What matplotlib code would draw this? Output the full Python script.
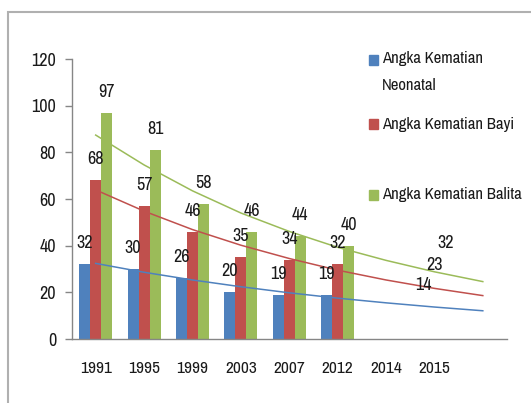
import numpy as np
import matplotlib
matplotlib.use("Agg")
import matplotlib.pyplot as plt
from matplotlib import font_manager as fm
from matplotlib.patches import Rectangle

# look for a narrow face (the original uses a Calibri-like font)
names_avail = sorted({f.name for f in fm.fontManager.ttflist})
narrow = [n for n in names_avail if ('Narrow' in n or 'Condensed' in n)]
if narrow:
    base_font, fs, fs_leg = narrow[0], 13, 12
else:
    base_font, fs, fs_leg = 'Liberation Sans', 11.5, 10.5
plt.rcParams['font.family'] = [base_font, 'DejaVu Sans']

# data
years = ['1991', '1995', '1999', '2003', '2007', '2012', '2014', '2015', '']
neonatal = [32, 30, 26, 20, 19, 19, np.nan, 14, np.nan]
bayi = [68, 57, 46, 35, 34, 32, np.nan, 23, np.nan]
balita = [97, 81, 58, 46, 44, 40, np.nan, 32, np.nan]
# 2015 values are shown only as labels (no visible bar)
visible = [True, True, True, True, True, True, False, False, False]

# trend lines, one value per category
trend_neonatal = [32.4, 28.6, 25.3, 22.4, 19.8, 17.5, 15.5, 13.7, 12.1]
trend_bayi = [63.9, 54.8, 46.9, 40.2, 34.5, 29.5, 25.3, 21.7, 18.6]
trend_balita = [87.4, 74.6, 63.5, 54.0, 46.1, 39.3, 33.7, 28.8, 24.6]

names = ['Angka Kematian Neonatal', 'Angka Kematian Bayi', 'Angka Kematian Balita']
colors = ['#4F81BD', '#C0504D', '#9BBB59']
txt_col = '#1a1a1a'

fig = plt.figure(figsize=(5.31, 4.03), dpi=100)
ax = fig.add_axes([71.5 / 531, 64 / 403, (507 - 71.5) / 531, (339 - 59) / 403])

x = np.arange(len(years))
w = 0.227
series = [neonatal, bayi, balita]
trends = [trend_neonatal, trend_bayi, trend_balita]
for i, (vals, tr, c) in enumerate(zip(series, trends, colors)):
    off = (i - 1) * w
    vals = np.array(vals, dtype=float)
    shown = np.where(visible, vals, np.nan)
    ax.bar(x + off, shown, width=w, color=c, zorder=2)
    for xi, v in zip(x + off, vals):
        if not np.isnan(v):
            ax.annotate(f'{v:.0f}', (xi, v), xytext=(0, 15), textcoords='offset points',
                        ha='center', va='center', fontsize=fs, color=txt_col, zorder=4)
    ax.plot(x, tr, color=c, lw=1.1, zorder=3)

ax.set_xlim(-0.5, len(years) - 0.5)
ax.set_ylim(0, 120)
ax.set_yticks(np.arange(0, 121, 20))
ax.set_xticks(x)
ax.set_xticklabels(years)
ax.tick_params(axis='y', length=5, width=1, color='#868686', labelsize=fs,
               labelcolor=txt_col, pad=6)
ax.tick_params(axis='x', length=0, labelsize=fs - 0.5, labelcolor=txt_col, pad=16)
for s in ['top', 'right']:
    ax.spines[s].set_visible(False)
for s in ['left', 'bottom']:
    ax.spines[s].set_color('#868686')
    ax.spines[s].set_linewidth(1)

# legend drawn by hand to keep Excel's uneven spacing
leg_y = [60, 124, 195]
for yy, c in zip(leg_y, colors):
    fig.patches.append(Rectangle((369 / 531, 1 - (yy + 5) / 403), 9 / 531, 10 / 403,
                                 transform=fig.transFigure, color=c))
fig.text(382 / 531, 1 - 59 / 403, 'Angka Kematian', fontsize=fs_leg, color=txt_col, va='center')
fig.text(382 / 531, 1 - 86 / 403, 'Neonatal', fontsize=fs_leg, color=txt_col, va='center')
fig.text(382 / 531, 1 - 125 / 403, names[1], fontsize=fs_leg, color=txt_col, va='center')
fig.text(382 / 531, 1 - 195 / 403, names[2], fontsize=fs_leg, color=txt_col, va='center')

# outer frame
fig.patches.append(Rectangle((8 / 531, -0.2), 1.2, 1.2 - 12 / 403,
                             transform=fig.transFigure, fill=False,
                             edgecolor='#b0b0b0', lw=1.5))

fig.savefig('out.png', dpi=100)
